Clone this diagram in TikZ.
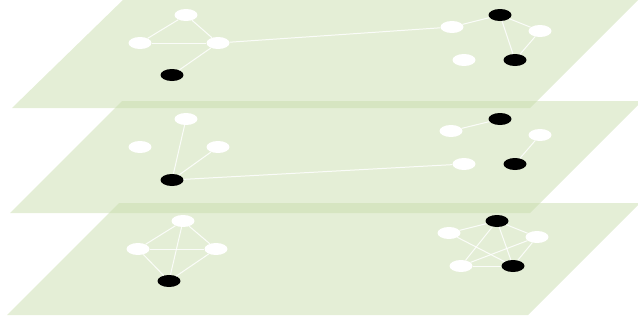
\documentclass[tikz,border=0pt]{standalone}
\usetikzlibrary{shapes.geometric}
\definecolor{planec}{RGB}{201,221,173}
\tikzset{
  plane/.style={fill=planec, fill opacity=0.5, draw=none},
  wn/.style={ellipse, fill=white, draw=none, minimum width=23pt, minimum height=12pt, inner sep=0pt},
  bn/.style={ellipse, fill=black, draw=none, minimum width=23pt, minimum height=12pt, inner sep=0pt},
  edge/.style={draw=white, line width=1pt, opacity=0.85}
}
\begin{document}
\begin{tikzpicture}[x=1pt,y=-1pt]
\useasboundingbox (0,0) rectangle (638,325);
\begin{scope}
\clip (0,0) rectangle (638,325);
% planes
\fill[plane] (12,108) -- (530,108) -- (641,-3) -- (126,-3) -- cycle;
\fill[plane] (10,213) -- (530,213) -- (642,101) -- (122,101) -- cycle;
\fill[plane] (7,315) -- (528,315) -- (640,203) -- (119,203) -- cycle;

% top plane nodes
\node[wn] (a1) at (186,15) {};
\node[wn] (a2) at (140,43) {};
\node[wn] (a3) at (218,43) {};
\node[bn] (a4) at (172,75) {};
\node[wn] (b1) at (452,27) {};
\node[bn] (b2) at (500,15) {};
\node[wn] (b3) at (540,31) {};
\node[wn] (b4) at (464,60) {};
\node[bn] (b5) at (515,60) {};

% middle plane nodes
\node[wn] (c1) at (186,119) {};
\node[wn] (c2) at (140,147) {};
\node[wn] (c3) at (218,147) {};
\node[bn] (c4) at (172,180) {};
\node[wn] (d1) at (451,131) {};
\node[bn] (d2) at (500,119) {};
\node[wn] (d3) at (540,135) {};
\node[wn] (d4) at (464,164) {};
\node[bn] (d5) at (515,164) {};

% bottom plane nodes
\node[wn] (e1) at (183,221) {};
\node[wn] (e2) at (138,249) {};
\node[wn] (e3) at (216,249) {};
\node[bn] (e4) at (169,281) {};
\node[wn] (f1) at (449,233) {};
\node[bn] (f2) at (497,221) {};
\node[wn] (f3) at (537,237) {};
\node[wn] (f4) at (461,266) {};
\node[bn] (f5) at (513,266) {};

% edges
\draw[edge] (a1) -- (a2);
\draw[edge] (a1) -- (a3);
\draw[edge] (a2) -- (a3);
\draw[edge] (a3) -- (a4);
\draw[edge] (a3) -- (b1);
\draw[edge] (b1) -- (b2);
\draw[edge] (b2) -- (b3);
\draw[edge] (b2) -- (b5);
\draw[edge] (b3) -- (b5);

\draw[edge] (c1) -- (c4);
\draw[edge] (c3) -- (c4);
\draw[edge] (c4) -- (d4);
\draw[edge] (d1) -- (d2);
\draw[edge] (d3) -- (d5);

\draw[edge] (e1) -- (e2);
\draw[edge] (e1) -- (e3);
\draw[edge] (e2) -- (e3);
\draw[edge] (e2) -- (e4);
\draw[edge] (e3) -- (e4);
\draw[edge] (e1) -- (e4);
\draw[edge] (f1) -- (f2);
\draw[edge] (f2) -- (f3);
\draw[edge] (f1) -- (f5);
\draw[edge] (f2) -- (f4);
\draw[edge] (f2) -- (f5);
\draw[edge] (f3) -- (f4);
\draw[edge] (f3) -- (f5);
\draw[edge] (f4) -- (f5);
\end{scope}
\end{tikzpicture}
\end{document}
